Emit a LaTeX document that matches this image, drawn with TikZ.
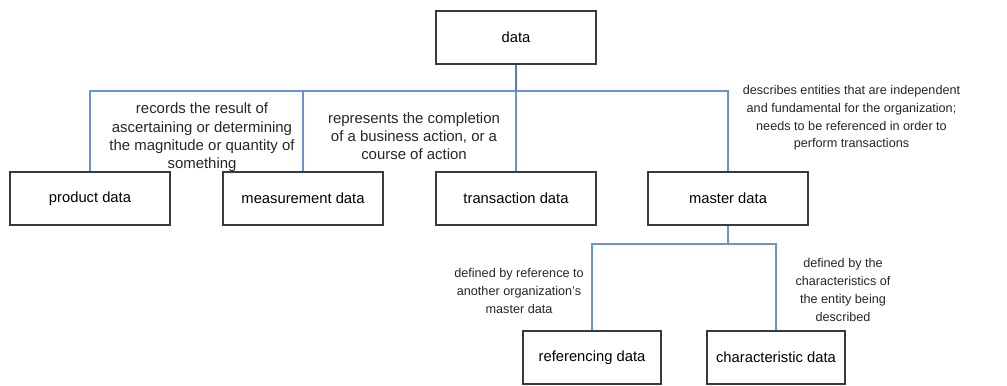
\documentclass[tikz,border=0pt]{standalone}
\usepackage{fontspec}
\setmainfont{Liberation Sans}
\usetikzlibrary{positioning}

\definecolor{linkblue}{HTML}{6A93D4}
\definecolor{trunkblue}{HTML}{4F7CC4}
\definecolor{boxgray}{HTML}{3A3A3A}

\begin{document}
\begin{tikzpicture}[
  font=\fontsize{8.4pt}{10.3pt}\selectfont,
  kind/.style={
    draw=boxgray, line width=0.9pt, fill=white,
    minimum width=3.20cm, minimum height=1.06cm,
    inner sep=2pt, align=center
  },
  subkind/.style={kind, minimum width=2.76cm},
  note/.style={align=center, inner sep=0pt, text=black!85,
    font=\fontsize{8.5pt}{10.4pt}\selectfont},
  smallnote/.style={note, font=\fontsize{7.2pt}{10.1pt}\selectfont},
  link/.style={draw=linkblue, line width=0.75pt},
  trunk/.style={draw=trunkblue, line width=1.1pt}
]
\useasboundingbox (0,0) rectangle (20.14,-7.70);

% ----- Root -----
\node[kind] (data) at (10.32, -0.75) {data};

% ----- First level -----
\node[kind] (product) at (1.80, -3.97) {product data};
\node[kind] (measure) at (6.06, -3.97) {measurement data};
\node[kind] (trans) at (10.32, -3.97) {transaction data};
\node[kind] (master) at (14.56, -3.97) {master data};

% ----- Second level -----
\node[subkind] (refdata) at (11.84, -7.15) {referencing data};
\node[subkind] (chardata) at (15.52, -7.15) {characteristic data};

% ----- Bus lines -----
\coordinate (bus) at (10.32, -1.82);
\coordinate (subbus) at (14.56, -4.88);

\draw[trunk] (data.south) -- (bus);
\draw[link] (product.north) |- (bus) -| (master.north);
\draw[link] (measure.north) -- (measure.north |- bus);
\draw[link] (bus) -- (trans.north);

\draw[link] (master.south) -- (subbus);
\draw[link] (refdata.north) |- (subbus) -| (chardata.north);

% ----- Descriptions -----
\node[note] (measnote) at (4.04, -2.75)
  {records the result of\\ascertaining or determining\\the magnitude or quantity of\\something};
\node[note] (transnote) at (8.28, -2.72)
  {represents the completion\\of a business action, or a\\course of action};
\node[smallnote] (masternote) at (17.03, -2.36)
  {describes entities that are independent\\and fundamental for the organization;\\needs to be referenced in order to\\perform transactions};
\node[smallnote] (refnote) at (10.38, -5.82)
  {defined by reference to\\another organization's\\master data};
\node[smallnote] (charnote) at (16.86, -5.80)
  {defined by the\\characteristics of\\the entity being\\described};

\end{tikzpicture}
\end{document}
